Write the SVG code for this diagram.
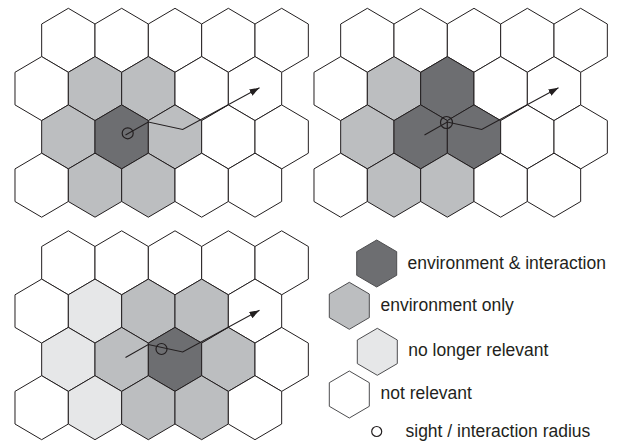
<svg xmlns="http://www.w3.org/2000/svg" xmlns:xlink="http://www.w3.org/1999/xlink" width="621" height="443" viewBox="0 0 621 443">
  <style>
    .cell { stroke: #231f20; stroke-width: 1; stroke-linejoin: miter; }
    .none { fill: #ffffff; }
    .env { fill: #bcbec0; }
    .act { fill: #6d6e71; }
    .old { fill: #e6e7e8; }
    .leg { stroke: #4d4d4f; stroke-width: 1; }
    .track { fill: none; stroke: #231f20; stroke-width: 1.1; }
    .radius { fill: none; stroke: #231f20; stroke-width: 1.2; }
    .label { font-family: "Liberation Sans", Arial, sans-serif; font-size: 17.5px; fill: #231f20; }
  </style>
  <defs>
    <!-- grid cell centred on the origin -->
    <polygon id="hex" points="0,-32 26.67,-16.3 26.67,16.3 0,32 -26.67,16.3 -26.67,-16.3"/>
    <!-- smaller cell for the key -->
    <polygon id="hexs" points="0,-23.5 20,-11.8 20,11.8 0,23.5 -20,11.8 -20,-11.8"/>
    <marker id="head" markerUnits="userSpaceOnUse" markerWidth="11" markerHeight="8" refX="10" refY="3.5" orient="auto">
      <path d="M0,0 L10,3.5 L0,7 z" fill="#231f20"/>
    </marker>
  </defs>

  <!-- grid A: start position -->
  <g id="grid-a">
    <g id="a-0-0"><use href="#hex" x="68.33" y="40.3" class="cell none"/></g>
    <g id="a-0-1"><use href="#hex" x="121.67" y="40.3" class="cell none"/></g>
    <g id="a-0-2"><use href="#hex" x="175" y="40.3" class="cell none"/></g>
    <g id="a-0-3"><use href="#hex" x="228.33" y="40.3" class="cell none"/></g>
    <g id="a-0-4"><use href="#hex" x="281.67" y="40.3" class="cell none"/></g>
    <g id="a-1-0"><use href="#hex" x="41.67" y="88.6" class="cell none"/></g>
    <g id="a-1-1"><use href="#hex" x="95" y="88.6" class="cell env"/></g>
    <g id="a-1-2"><use href="#hex" x="148.33" y="88.6" class="cell env"/></g>
    <g id="a-1-3"><use href="#hex" x="201.67" y="88.6" class="cell none"/></g>
    <g id="a-1-4"><use href="#hex" x="255" y="88.6" class="cell none"/></g>
    <g id="a-2-0"><use href="#hex" x="68.33" y="136.9" class="cell env"/></g>
    <g id="a-2-1"><use href="#hex" x="121.67" y="136.9" class="cell act"/></g>
    <g id="a-2-2"><use href="#hex" x="175" y="136.9" class="cell env"/></g>
    <g id="a-2-3"><use href="#hex" x="228.33" y="136.9" class="cell none"/></g>
    <g id="a-2-4"><use href="#hex" x="281.67" y="136.9" class="cell none"/></g>
    <g id="a-3-0"><use href="#hex" x="41.67" y="185.2" class="cell none"/></g>
    <g id="a-3-1"><use href="#hex" x="95" y="185.2" class="cell env"/></g>
    <g id="a-3-2"><use href="#hex" x="148.33" y="185.2" class="cell env"/></g>
    <g id="a-3-3"><use href="#hex" x="201.67" y="185.2" class="cell none"/></g>
    <g id="a-3-4"><use href="#hex" x="255" y="185.2" class="cell none"/></g>
  </g>

  <!-- grid B: on the cell corner -->
  <g id="grid-b" transform="translate(299,0)">
    <g id="b-0-0"><use href="#hex" x="68.33" y="40.3" class="cell none"/></g>
    <g id="b-0-1"><use href="#hex" x="121.67" y="40.3" class="cell none"/></g>
    <g id="b-0-2"><use href="#hex" x="175" y="40.3" class="cell none"/></g>
    <g id="b-0-3"><use href="#hex" x="228.33" y="40.3" class="cell none"/></g>
    <g id="b-0-4"><use href="#hex" x="281.67" y="40.3" class="cell none"/></g>
    <g id="b-1-0"><use href="#hex" x="41.67" y="88.6" class="cell none"/></g>
    <g id="b-1-1"><use href="#hex" x="95" y="88.6" class="cell env"/></g>
    <g id="b-1-2"><use href="#hex" x="148.33" y="88.6" class="cell act"/></g>
    <g id="b-1-3"><use href="#hex" x="201.67" y="88.6" class="cell none"/></g>
    <g id="b-1-4"><use href="#hex" x="255" y="88.6" class="cell none"/></g>
    <g id="b-2-0"><use href="#hex" x="68.33" y="136.9" class="cell env"/></g>
    <g id="b-2-1"><use href="#hex" x="121.67" y="136.9" class="cell act"/></g>
    <g id="b-2-2"><use href="#hex" x="175" y="136.9" class="cell act"/></g>
    <g id="b-2-3"><use href="#hex" x="228.33" y="136.9" class="cell none"/></g>
    <g id="b-2-4"><use href="#hex" x="281.67" y="136.9" class="cell none"/></g>
    <g id="b-3-0"><use href="#hex" x="41.67" y="185.2" class="cell none"/></g>
    <g id="b-3-1"><use href="#hex" x="95" y="185.2" class="cell env"/></g>
    <g id="b-3-2"><use href="#hex" x="148.33" y="185.2" class="cell env"/></g>
    <g id="b-3-3"><use href="#hex" x="201.67" y="185.2" class="cell none"/></g>
    <g id="b-3-4"><use href="#hex" x="255" y="185.2" class="cell none"/></g>
  </g>

  <!-- grid C: moved into the next cell -->
  <g id="grid-c" transform="translate(0,222.5)">
    <g id="c-0-0"><use href="#hex" x="68.33" y="40.3" class="cell none"/></g>
    <g id="c-0-1"><use href="#hex" x="121.67" y="40.3" class="cell none"/></g>
    <g id="c-0-2"><use href="#hex" x="175" y="40.3" class="cell none"/></g>
    <g id="c-0-3"><use href="#hex" x="228.33" y="40.3" class="cell none"/></g>
    <g id="c-0-4"><use href="#hex" x="281.67" y="40.3" class="cell none"/></g>
    <g id="c-1-0"><use href="#hex" x="41.67" y="88.6" class="cell none"/></g>
    <g id="c-1-1"><use href="#hex" x="95" y="88.6" class="cell old"/></g>
    <g id="c-1-2"><use href="#hex" x="148.33" y="88.6" class="cell env"/></g>
    <g id="c-1-3"><use href="#hex" x="201.67" y="88.6" class="cell env"/></g>
    <g id="c-1-4"><use href="#hex" x="255" y="88.6" class="cell none"/></g>
    <g id="c-2-0"><use href="#hex" x="68.33" y="136.9" class="cell old"/></g>
    <g id="c-2-1"><use href="#hex" x="121.67" y="136.9" class="cell env"/></g>
    <g id="c-2-2"><use href="#hex" x="175" y="136.9" class="cell act"/></g>
    <g id="c-2-3"><use href="#hex" x="228.33" y="136.9" class="cell env"/></g>
    <g id="c-2-4"><use href="#hex" x="281.67" y="136.9" class="cell none"/></g>
    <g id="c-3-0"><use href="#hex" x="41.67" y="185.2" class="cell none"/></g>
    <g id="c-3-1"><use href="#hex" x="95" y="185.2" class="cell old"/></g>
    <g id="c-3-2"><use href="#hex" x="148.33" y="185.2" class="cell env"/></g>
    <g id="c-3-3"><use href="#hex" x="201.67" y="185.2" class="cell env"/></g>
    <g id="c-3-4"><use href="#hex" x="255" y="185.2" class="cell none"/></g>
  </g>

  <!-- movement tracks with the sight radius marker -->
  <g id="connectors">
    <path id="track-a" class="track" d="M125.5,135 L148.3,122 L182.7,129.5 L259.5,87.8" marker-end="url(#head)"/>
    <circle class="radius" cx="127.7" cy="133.3" r="5.5"/>
    <g transform="translate(299,0)">
      <path id="track-b" class="track" d="M125.5,135 L148.3,122 L182.7,129.5 L259.5,87.8" marker-end="url(#head)"/>
      <circle class="radius" cx="147.5" cy="122.5" r="6"/>
    </g>
    <g transform="translate(0,222.5)">
      <path id="track-c" class="track" d="M125.5,135 L148.3,122 L182.7,129.5 L259.5,87.8" marker-end="url(#head)"/>
      <circle class="radius" cx="161.5" cy="126.5" r="5.5"/>
    </g>
  </g>

  <!-- key -->
  <g id="key-interaction">
    <use href="#hexs" x="376.7" y="263.5" class="leg act"/>
    <text class="label" x="407.5" y="268.5">environment &amp; interaction</text>
  </g>
  <g id="key-environment">
    <use href="#hexs" x="349.3" y="305.8" class="leg env"/>
    <text class="label" x="380.5" y="310.7">environment only</text>
  </g>
  <g id="key-old">
    <use href="#hexs" x="377.3" y="351.8" class="leg old"/>
    <text class="label" x="408.3" y="356.3">no longer relevant</text>
  </g>
  <g id="key-none">
    <use href="#hexs" x="349.3" y="394.5" class="leg none"/>
    <text class="label" x="380.5" y="398.5">not relevant</text>
  </g>
  <g id="key-radius">
    <circle cx="376.7" cy="431.5" r="5" fill="none" stroke="#231f20" stroke-width="1.2"/>
    <text class="label" x="405.5" y="437">sight / interaction radius</text>
  </g>
</svg>
